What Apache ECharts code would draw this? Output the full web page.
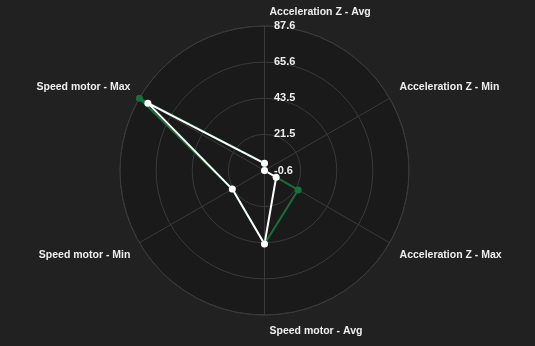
<!DOCTYPE html>
<html>
<head>
<meta charset="utf-8">
<script src="https://cdn.jsdelivr.net/npm/echarts@6/dist/echarts.min.js"></script>
<style>
html,body{margin:0;padding:0;background:#212121;}
#c{width:535px;height:346px;}
</style>
</head>
<body>
<div id="c"></div>
<script>
// Indicators in ECharts (counter-clockwise) order starting from the top
var indicators = ['Acceleration Z - Avg', 'Speed motor - Max', 'Speed motor - Min', 'Speed motor - Avg', 'Acceleration Z - Max', 'Acceleration Z - Min'];
var seriesGreen = [3.9, 87.6, 22.1, 44.3, 23.1, -0.6];
var seriesWhite = [3.8, 81.6, 22.1, 44.3, 7.6, -0.6];
var tickLabels = ['-0.6', '21.5', '43.5', '65.6', '87.6'];
var axisMin = -0.6, axisMax = 87.6, splits = 4;

var nameStyles = [
  {align: 'left', padding: [0, 0, 0, 5]},
  {verticalAlign: 'bottom', lineHeight: 14, padding: [0, 2, 0, 0]},
  {verticalAlign: 'top', lineHeight: 16, padding: [0, 2, 0, 0]},
  {align: 'left', verticalAlign: 'top', lineHeight: 16, padding: [0, 0, 0, 5]},
  {verticalAlign: 'top', lineHeight: 16, padding: [0, 0, 0, 3]},
  {verticalAlign: 'bottom', lineHeight: 14, padding: [0, 0, 0, 3]}
];

var chart = echarts.init(document.getElementById('c'), null, {renderer: 'canvas'});
var ind = indicators.map(function (n, i) {
  var o = {name: n, min: axisMin, max: axisMax, nameTextStyle: nameStyles[i]};
  if (i === 0) {
    o.axisLabel = {
      show: true, color: '#eeeeee', fontWeight: 'bold', fontSize: 11,
      fontFamily: 'Liberation Sans, Arial, sans-serif',
      align: 'left', margin: -9.5, padding: [2, 0, 0, 0],
      formatter: function (v) {
        var k = Math.round((v - axisMin) / ((axisMax - axisMin) / splits));
        return tickLabels[k] !== undefined ? tickLabels[k] : '';
      }
    };
  }
  return o;
});

chart.setOption({
  backgroundColor: '#212121',
  animation: false,
  radar: {
    center: [264.5, 170.5],
    radius: 144.5,
    shape: 'circle',
    splitNumber: splits,
    startAngle: 90,
    nameGap: 8,
    indicator: ind,
    axisName: {
      color: '#eeeeee',
      fontWeight: 'bold',
      fontSize: 10.5,
      fontFamily: 'Liberation Sans, Arial, sans-serif'
    },
    axisLine: {lineStyle: {color: '#3a3a3a', width: 1}},
    splitLine: {lineStyle: {color: '#3a3a3a', width: 1}},
    splitArea: {show: true, areaStyle: {color: ['#1a1a1a']}},
    axisTick: {show: false},
    axisLabel: {show: false}
  },
  series: [{
    type: 'radar',
    symbol: 'circle',
    data: [
      {
        value: seriesGreen,
        symbolSize: 7,
        lineStyle: {color: '#17703a', width: 2},
        itemStyle: {color: '#17703a'}
      },
      {
        value: seriesWhite,
        symbolSize: 7,
        lineStyle: {color: '#ffffff', width: 2},
        itemStyle: {color: '#ffffff'}
      }
    ]
  }]
});
</script>
</body>
</html>
